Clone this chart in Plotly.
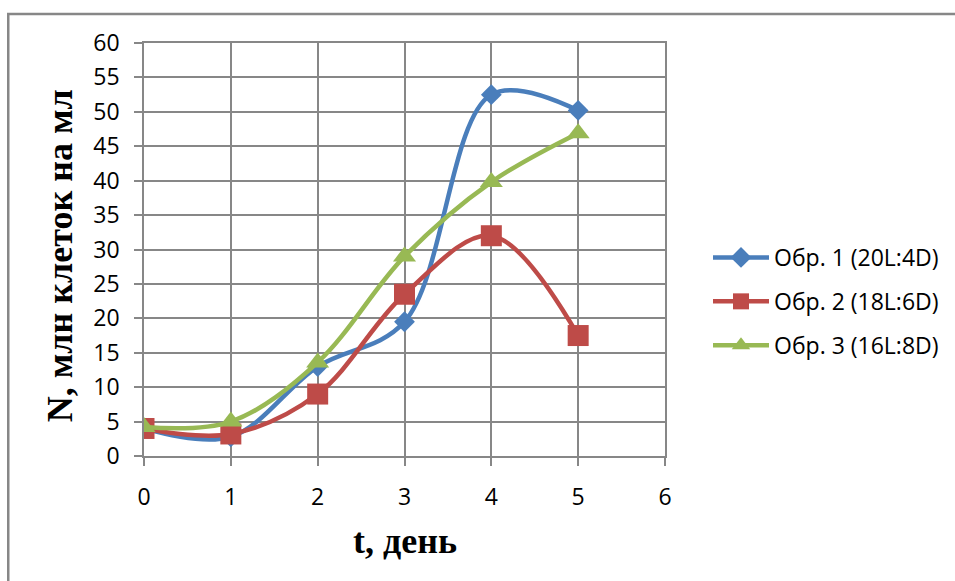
import plotly.graph_objects as go

days = [0, 1, 2, 3, 4, 5]
series_names = ["Обр. 1 (20L:4D)", "Обр. 2 (18L:6D)", "Обр. 3 (16L:8D)"]
obr1 = [4.0, 2.8, 13.0, 19.5, 52.5, 50.2]
obr2 = [4.0, 3.2, 9.0, 23.5, 32.0, 17.5]
obr3 = [4.2, 5.0, 13.6, 29.0, 39.8, 46.9]
x_ticks = [0, 1, 2, 3, 4, 5, 6]
y_ticks = list(range(0, 61, 5))

colors = ["#4A7EBB", "#BE4B48", "#98B954"]
symbols = ["diamond", "square", "triangle-up"]
sizes = [16, 21, 20]

W, H = 955, 581
L, R, T, B = 144, 666, 43, 456

fig = go.Figure()
for i, (name, ys, c, s, sz) in enumerate(zip(series_names, [obr1, obr2, obr3], colors, symbols, sizes)):
    fig.add_trace(go.Scatter(
        x=days, y=ys, name=name, mode="lines+markers", legendgroup=f"g{i}",
        line=dict(color=c, width=4.5, shape="spline", smoothing=1.0),
        marker=dict(symbol=s, size=sz, color=c),
    ))

def px_x(p):
    return (p - L) / (R - L)

def px_y(p):
    return (B - p) / (B - T)

axis_common = dict(
    showgrid=True, gridcolor="#878787", gridwidth=1.5,
    showline=True, linecolor="#878787", linewidth=1.5,
    ticks="outside", ticklen=8, tickcolor="#878787", tickwidth=1.5,
    zeroline=False, tickfont=dict(family="Open Sans", size=23, color="#000000"),
    mirror=True,
)

fig.update_layout(
    width=W, height=H,
    margin=dict(l=L, r=W - R, t=T, b=H - B),
    paper_bgcolor="white", plot_bgcolor="white",
    xaxis=dict(range=[0, 6], tickvals=x_ticks, ticklabelstandoff=12, **axis_common),
    yaxis=dict(range=[0, 60], tickvals=y_ticks, ticklabelstandoff=10, **axis_common),
    showlegend=True,
    legend=dict(
        x=px_x(708), y=px_y(236), xanchor="left", yanchor="top",
        font=dict(family="Open Sans", size=23, color="#000000"),
        bgcolor="rgba(0,0,0,0)", tracegroupgap=11, itemwidth=56,
        traceorder="grouped",
    ),
    shapes=[dict(
        type="rect", xref="paper", yref="paper",
        x0=px_x(8), x1=px_x(1000), y0=px_y(620), y1=px_y(14),
        line=dict(color="#878787", width=2.5), fillcolor="rgba(0,0,0,0)",
        layer="below",
    )],
    annotations=[
        dict(text="<b>t, день</b>", xref="paper", yref="paper",
             x=px_x(405), y=px_y(541), xanchor="center", yanchor="middle",
             showarrow=False,
             font=dict(family="Liberation Serif", size=36, color="#000000")),
        dict(text="<b>N, млн клеток на мл</b>", xref="paper", yref="paper",
             x=px_x(60), y=px_y(256), xanchor="center", yanchor="middle",
             showarrow=False, textangle=-90,
             font=dict(family="Liberation Serif", size=36, color="#000000")),
    ],
)

fig.write_html("out.html")
